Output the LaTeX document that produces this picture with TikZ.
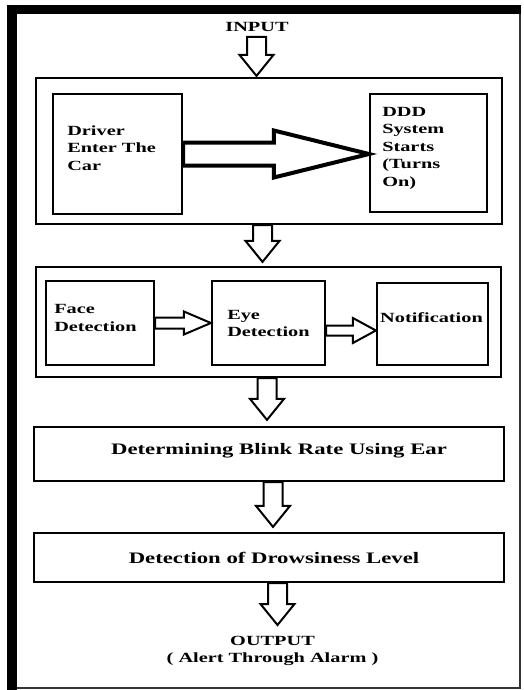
\documentclass[tikz,border=0pt]{standalone}
\usepackage{fontspec}
\setmainfont{Liberation Serif}
\usetikzlibrary{calc}

% hollow block arrow going down: tail coordinate, target, gap above target
\newcommand{\downblock}[3]{%
  \draw[blockarrow] let \p1=(#1), \p2=(#2) in
    (\x1-9.5pt,\y1) -- (\x1-9.5pt,\y2+#3+21pt) -- (\x1-17pt,\y2+#3+21pt) -- (\x1,\y2+#3)
    -- (\x1+17pt,\y2+#3+21pt) -- (\x1+9.5pt,\y2+#3+21pt) -- (\x1+9.5pt,\y1) -- cycle;}
% hollow block arrow going right: tail, target, shaft half, head half, head length
\newcommand{\rightblock}[6][]{%
  \draw[blockarrow,#1] let \p1=(#2), \p2=(#3) in
    (\x1,\y1+#4) -- (\x2-#6,\y1+#4) -- (\x2-#6,\y1+#5) -- (\x2,\y1)
    -- (\x2-#6,\y1-#5) -- (\x2-#6,\y1-#4) -- (\x1,\y1-#4) -- cycle;}

\begin{document}
\begin{tikzpicture}[x=1pt,y=-1pt,
    box/.style={draw, line width=2.2pt, inner sep=0pt},
    lbl/.style={font=\bfseries\fontsize{14}{17.5}\selectfont, xscale=1.45, inner sep=0pt, align=left},
    biglbl/.style={font=\bfseries\fontsize{16}{19}\selectfont, xscale=1.42, inner sep=0pt},
    blockarrow/.style={draw, fill=white, line width=2pt, line join=miter}]
  \useasboundingbox (0,0) rectangle (524,690);

  % outer frame
  \draw[line width=2pt, black!80] (8,6) rectangle (520,688);
  \fill (7,5) rectangle (17,690);
  \fill (7,5) rectangle (521,14);

  % first stage
  \node[box, minimum width=466pt, minimum height=146pt] (stage1) at (269,151) {};
  \node[box, minimum width=129pt, minimum height=120pt] (driver) at (117.5,154) {};
  \node[box, minimum width=117pt, minimum height=118pt] (ddd) at (428.5,153) {};
  \node[lbl, anchor=west] (driverlbl) at (67,148) {Driver\\Enter The\\Car};
  \node[lbl, anchor=west] (dddlbl) at (382,148) {DDD\\System\\Starts\\(Turns\\On)};

  % second stage
  \node[box, minimum width=465pt, minimum height=110pt] (stage2) at (268.5,322) {};
  \node[box, minimum width=108pt, minimum height=84pt] (face) at (100,323) {};
  \node[box, minimum width=113pt, minimum height=84pt] (eye) at (268.5,323) {};
  \node[box, minimum width=111pt, minimum height=82pt] (notif) at (432.5,324) {};
  \node[lbl, anchor=west] (facelbl) at (54,318) {Face\\Detection};
  \node[lbl, anchor=west] (eyelbl) at (227,323.5) {Eye\\Detection};
  \node[lbl] (notiflbl) at (431.5,318) {Notification};

  % single steps
  \node[box, minimum width=470pt, minimum height=54pt] (blink) at (269,454) {};
  \node[biglbl] (blinklbl) at (279,451) {Determining Blink Rate Using Ear};
  \node[box, minimum width=470pt, minimum height=49pt] (drowsy) at (269,557.5) {};
  \node[biglbl] (drowsylbl) at (274,558) {Detection of Drowsiness Level};

  \node[lbl] (inlbl) at (257,27) {INPUT};
  \node[lbl, align=center] (outlbl) at (272.5,651) {OUTPUT\\( Alert Through Alarm )};

  % arrows
  \coordinate (intail) at (256.5,37);
  \coordinate (s1out) at ($(stage1.south)+(-6.5,0)$);
  \coordinate (s2out) at ($(stage2.south)+(-1.5,0)$);
  \coordinate (blinkout) at ($(blink.south)+(4,0)$);
  \coordinate (drowsyout) at ($(drowsy.south)+(8.5,0)$);
  \coordinate (outtip) at (277.5,625);
  \downblock{intail}{stage1.north}{1pt}
  \downblock{s1out}{stage2.north}{4pt}
  \downblock{s2out}{blink.north}{6pt}
  \downblock{blinkout}{drowsy.north}{5pt}
  \downblock{drowsyout}{outtip}{0pt}

  \rightblock[line width=4pt]{driver.east}{ddd.west}{11.5pt}{23.5pt}{95pt}
  \rightblock{face.east}{eye.west}{5.5pt}{11.5pt}{27pt}
  \rightblock{$(eye.east)+(0,7.5)$}{notif.west}{5pt}{12.5pt}{23pt}
\end{tikzpicture}
\end{document}
